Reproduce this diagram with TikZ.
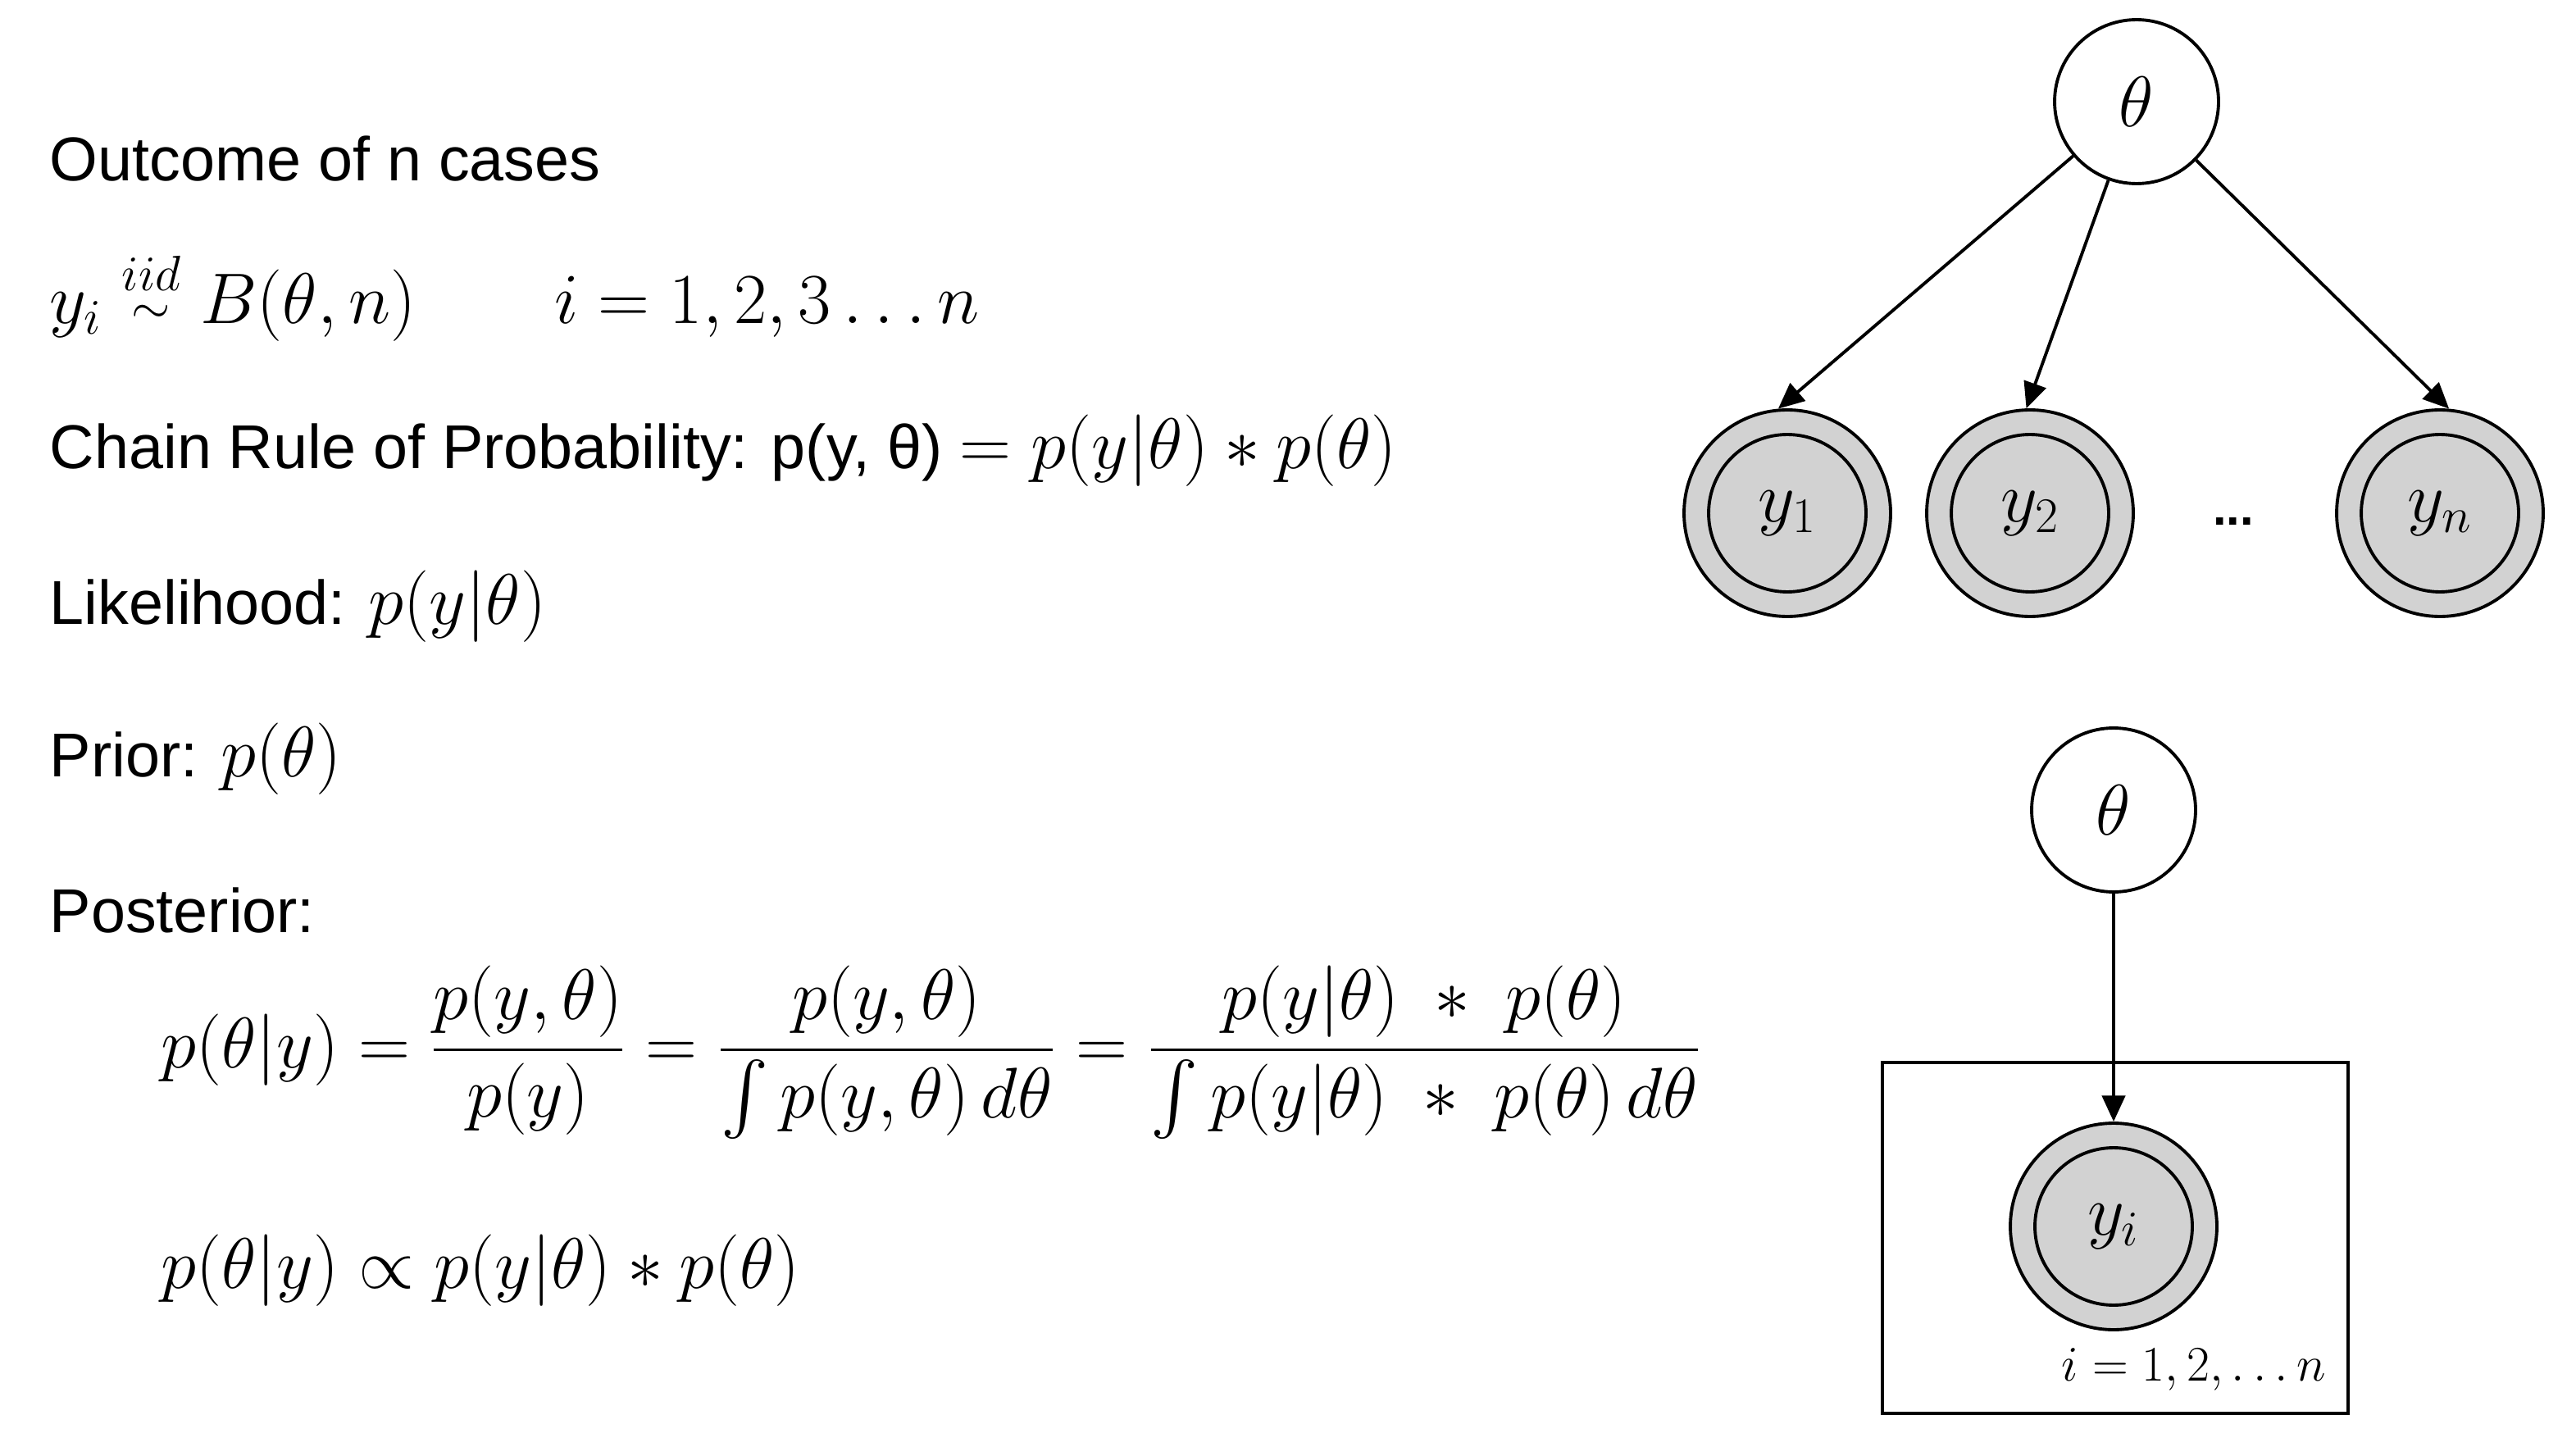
\documentclass[tikz,border=0pt]{standalone}
\usepackage{amsmath}
\usepackage{fontspec}
\setmainfont{Liberation Sans}
\usetikzlibrary{arrows.meta}
\begin{document}
\begin{tikzpicture}[x=0.02cm,y=-0.02cm,
  txt/.style={anchor=west,inner sep=0pt,font=\fontsize{21.5}{25}\selectfont},
  mth/.style={anchor=west,inner sep=0pt,font=\fontsize{24}{28}\selectfont},
  var/.style={circle,draw,line width=1.1pt,inner sep=0pt,minimum size=2cm,font=\fontsize{23}{27}\selectfont},
  arr/.style={-{Triangle[length=9pt,width=8pt]},line width=1.1pt}]
\useasboundingbox (0,0) rectangle (1571,888);
\node[txt] (t1) at (30,97) {Outcome of n cases};
\node[mth] (t2) at (30,180) {$y_i \mathrel{\overset{iid}{\scriptstyle\sim}} B(\theta,n) \qquad i=1,2,3\ldots n$};
\node[txt] (t3) at (30,275) {Chain Rule of Probability: p(y, θ) {\fontsize{24}{28}\selectfont$= p(y|\theta)\ast p(\theta)$}};
\node[txt] (t4) at (30,370) {Likelihood: {\fontsize{24}{28}\selectfont$p(y|\theta)$}};
\node[txt] (t5) at (30,463) {Prior: {\fontsize{24}{28}\selectfont$p(\theta)$}};
\node[txt] (t6) at (30,555) {Posterior:};
\node[mth] (t7) at (98,642) {$\displaystyle p(\theta|y)=\frac{p(y,\theta)}{p(y)}=\frac{p(y,\theta)}{\int p(y,\theta)\,d\theta}=\frac{p(y|\theta)\ \ast\ p(\theta)}{\int p(y|\theta)\ \ast\ p(\theta)\,d\theta}$};
\node[mth] (t8) at (98,775) {$p(\theta|y)\propto p(y|\theta)\ast p(\theta)$};
% top graph
\node[var] (th) at (1303,62) {$\theta$};
\foreach \n/\x/\l/\a in {a/1090/y_1/95,b/1238/y_2/92,c/1488/y_n/85}{
  \node[circle,draw,line width=1.1pt,fill=gray!35,minimum size=2.52cm] (o\n) at (\x,313) {};
  \node[circle,draw,line width=1.1pt,fill=gray!35,minimum size=1.92cm,font=\fontsize{24}{28}\selectfont] (i\n) at (\x,313) {$\l$};
  \draw[arr] (th) -- (o\n.\a);
}
\node[font=\fontsize{17}{20}\selectfont\bfseries] (dots) at (1362,318) {...};
% plate
\node[var] (th2) at (1289,494) {$\theta$};
\node[draw,line width=1.1pt,minimum width=5.68cm,minimum height=4.28cm,inner sep=0pt] (plate) at (1290,755) {};
\node[circle,draw,line width=1.1pt,fill=gray!35,minimum size=2.52cm] (oy) at (1289,748) {};
\node[circle,draw,line width=1.1pt,fill=gray!35,minimum size=1.92cm,font=\fontsize{24}{28}\selectfont] (iy) at (1289,748) {$y_i$};
\draw[arr] (th2) -- (oy);
\node[font=\fontsize{18}{21}\selectfont] (pl) at (1338,835) {$i=1,2,\ldots n$};
\end{tikzpicture}
\end{document}
